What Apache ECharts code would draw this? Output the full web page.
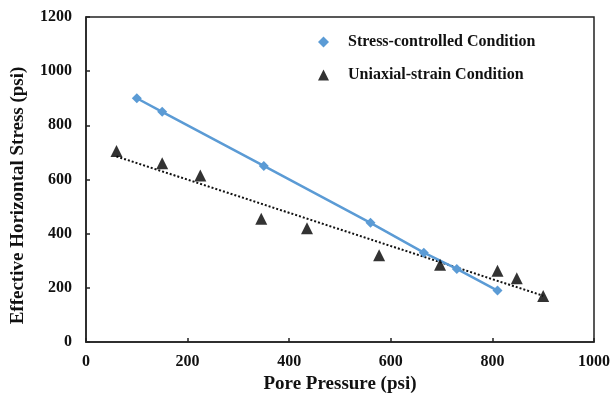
<!DOCTYPE html>
<html>
<head>
<meta charset="utf-8">
<script src="https://cdn.jsdelivr.net/npm/echarts@6/dist/echarts.min.js"></script>
<style>
  html, body { margin: 0; padding: 0; background: #fff; }
  #chart { width: 611px; height: 396px; }
</style>
</head>
<body>
<div id="chart"></div>
<script>
// Stress-controlled test: pore pressure (psi) vs effective horizontal stress (psi)
var stressPore = [100, 150, 350, 560, 665, 730, 810];
var stressEff = [900, 850, 650, 440, 330, 270, 190];

// Uniaxial-strain test
var strainPore = [60, 150, 225, 345, 435, 577, 697, 810, 848, 900];
var strainEff = [705, 660, 615, 455, 420, 320, 285, 263, 235, 170];

var xTicks = [0, 200, 400, 600, 800, 1000];
var yTicks = [0, 200, 400, 600, 800, 1000, 1200];

var seriesNames = ['Stress-controlled Condition', 'Uniaxial-strain Condition'];

function pairs(xs, ys) {
  return xs.map(function (x, i) { return [x, ys[i]]; });
}

// Least-squares linear trend over the uniaxial-strain points
function linearFit(xs, ys) {
  var n = xs.length, sx = 0, sy = 0, sxx = 0, sxy = 0;
  for (var i = 0; i < n; i++) {
    sx += xs[i]; sy += ys[i]; sxx += xs[i] * xs[i]; sxy += xs[i] * ys[i];
  }
  var b = (n * sxy - sx * sy) / (n * sxx - sx * sx);
  var a = (sy - b * sx) / n;
  var x0 = Math.min.apply(null, xs), x1 = Math.max.apply(null, xs);
  return [[x0, a + b * x0], [x1, a + b * x1]];
}

var serif = '"Liberation Serif", "Times New Roman", serif';
var blue = '#5b9bd5';

var chart = echarts.init(document.getElementById('chart'));
chart.setOption({
  animation: false,
  backgroundColor: '#fff',
  grid: {
    left: 86, right: 17, top: 17, bottom: 54,
    outerBoundsMode: 'none',
    containLabel: false,
    show: true, borderColor: '#222', borderWidth: 1.5, backgroundColor: 'transparent'
  },
  legend: {
    orient: 'vertical',
    left: 313, top: 29,
    itemWidth: 11, itemHeight: 11,
    itemGap: 17,
    textStyle: { fontFamily: serif, fontWeight: 'bold', fontSize: 16, color: '#111', padding: [0, 0, 0, 14] },
    data: [
      { name: seriesNames[0], icon: 'diamond', itemStyle: { color: blue } },
      { name: seriesNames[1], icon: 'triangle', itemStyle: { color: '#000' } }
    ]
  },
  xAxis: {
    type: 'value', min: 0, max: 1000, interval: 200,
    name: 'Pore Pressure (psi)', nameLocation: 'middle', nameGap: 33,
    nameTextStyle: { fontFamily: serif, fontWeight: 'bold', fontSize: 19, color: '#111' },
    axisLine: { show: true, lineStyle: { color: '#222', width: 1.5 } },
    axisTick: { show: true, inside: true, length: 4, lineStyle: { color: '#222', width: 1.5 } },
    axisLabel: { fontFamily: serif, fontWeight: 'bold', fontSize: 16, color: '#111', margin: 12,
      formatter: function (v) { return xTicks.indexOf(v) >= 0 ? String(v) : ''; } },
    splitLine: { show: false }
  },
  yAxis: {
    type: 'value', min: 0, max: 1200, interval: 200,
    name: 'Effective Horizontal Stress (psi)', nameLocation: 'middle', nameGap: 58,
    nameTextStyle: { fontFamily: serif, fontWeight: 'bold', fontSize: 19, color: '#111', padding: [0, 32, 0, 0] },
    axisLine: { show: true, lineStyle: { color: '#222', width: 1.5 } },
    axisTick: { show: true, inside: true, length: 4, lineStyle: { color: '#222', width: 1.5 } },
    axisLabel: { fontFamily: serif, fontWeight: 'bold', fontSize: 16, color: '#111', margin: 14,
      formatter: function (v) { return yTicks.indexOf(v) >= 0 ? String(v) : ''; } },
    splitLine: { show: false }
  },
  series: [
    {
      name: seriesNames[1] + ' trend',
      type: 'line',
      data: linearFit(strainPore, strainEff),
      showSymbol: false,
      symbol: 'none',
      lineStyle: { color: '#111', width: 2, type: [2, 2] },
      z: 2
    },
    {
      name: seriesNames[0],
      type: 'line',
      data: pairs(stressPore, stressEff),
      symbol: 'diamond',
      symbolSize: 10,
      itemStyle: { color: blue },
      lineStyle: { color: blue, width: 2.5 },
      z: 3
    },
    {
      name: seriesNames[1],
      type: 'scatter',
      data: pairs(strainPore, strainEff),
      symbol: 'triangle',
      symbolSize: 12,
      itemStyle: { color: '#000' },
      z: 4
    }
  ]
});
</script>
</body>
</html>
